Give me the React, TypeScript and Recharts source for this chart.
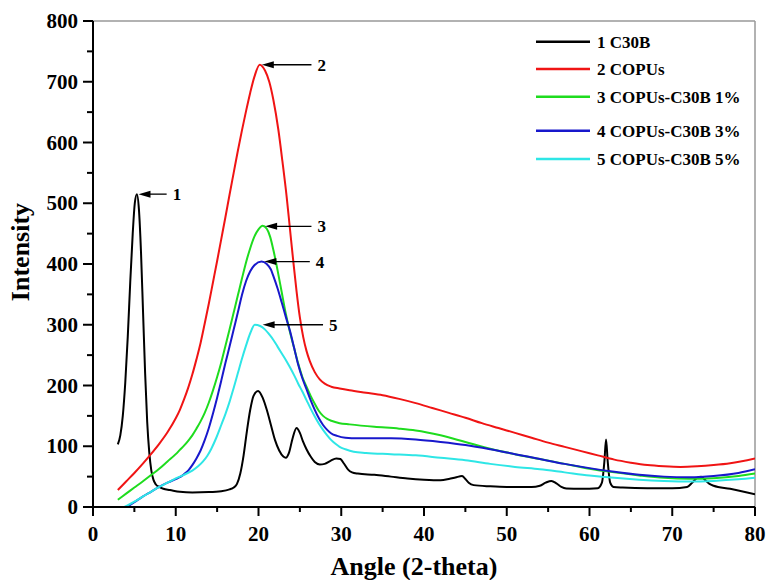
import React from 'react';
import { LineChart, Line, XAxis, YAxis, ReferenceLine } from 'recharts';

const FONT = '"Liberation Serif", "Times New Roman", serif';

const c30b: [number, number][] = [
  [3, 103], [3.3, 118], [3.6, 150], [3.9, 205], [4.2, 280], [4.5, 370], [4.8, 450], [5.05, 500], [5.3, 515],
  [5.55, 490], [5.8, 420], [6.05, 320], [6.3, 220], [6.55, 140], [6.8, 90], [7.05, 60], [7.3, 45], [7.6, 37],
  [8, 33], [8.5, 30], [9.3, 28], [10.5, 25], [12, 24], [14, 24.5], [15.5, 26], [16.5, 29], [17, 32],
  [17.4, 38], [17.8, 55], [18.2, 85], [18.6, 125], [19, 160], [19.4, 183], [19.95, 191], [20.5, 180],
  [21, 160], [21.5, 135], [22, 110], [22.5, 93], [23, 83], [23.3, 81], [23.7, 90], [24.1, 112], [24.6, 130],
  [25, 122], [25.4, 107], [25.8, 95], [26.3, 83], [26.8, 74], [27.4, 70], [28, 71], [28.7, 76], [29.4, 80],
  [29.9, 79], [30.3, 72], [30.8, 62], [31.3, 57], [32, 55], [34, 53], [36, 50], [38, 47], [40, 45], [42, 44],
  [43, 46], [43.8, 48.5], [44.6, 51], [45, 46], [45.4, 40], [46, 36], [48, 34], [50, 33], [53, 33], [54, 35],
  [54.7, 40], [55.4, 43], [56, 39], [56.6, 33], [57.2, 30.5], [59, 30], [61, 31], [61.5, 40], [61.8, 75],
  [62, 111], [62.2, 75], [62.5, 40], [62.9, 33], [64, 32], [67, 31], [70, 31], [71.8, 33], [72.4, 40],
  [73, 48], [73.5, 50], [74, 44], [74.5, 38], [75, 35], [77, 30], [80, 21],
];

const copus: [number, number][] = [
  [3, 28], [4, 42], [5, 56], [6, 71], [7, 87], [8, 104], [9, 123], [10, 146], [10.5, 160], [11, 177],
  [11.5, 196], [12, 218], [12.5, 243], [13, 270], [13.5, 302], [14, 335], [14.5, 370], [15, 405], [15.5, 441],
  [16, 477], [16.5, 514], [17, 550], [17.5, 586], [18, 620], [18.5, 652], [19, 682], [19.5, 708], [20.15, 728],
  [20.8, 718], [21.3, 700], [21.8, 670], [22.4, 621], [22.9, 568], [23.4, 511], [23.8, 458], [24.2, 405],
  [24.6, 355], [25, 312], [25.4, 280], [25.8, 257], [26.2, 240], [26.8, 222], [27.4, 210], [28, 203],
  [28.8, 198], [29.8, 195], [31, 192], [33, 188], [35, 184], [37, 178], [39, 171], [41, 163], [43, 155],
  [45, 147], [47, 138], [49, 130], [51, 122], [53, 114], [55, 106], [57, 99], [59, 92], [61, 85], [63, 78],
  [65, 73], [67, 69], [69, 67], [71, 66], [73, 67], [75, 69], [77, 72], [80, 80],
];

const c30b1: [number, number][] = [
  [3, 12], [4, 22], [5, 32], [6, 42], [7.06, 53], [8, 63], [9, 75], [10, 87], [10.5, 94], [11, 101],
  [11.5, 109], [12, 118], [12.5, 129], [13, 141], [13.5, 155], [14, 172], [14.5, 192], [15, 214], [15.5, 238],
  [16, 265], [16.5, 292], [17, 320], [17.5, 348], [18, 376], [18.5, 403], [19, 426], [19.5, 445], [20, 457],
  [20.5, 463], [21, 458], [21.4, 445], [21.8, 423], [22.3, 390], [22.8, 354], [23.3, 318], [23.8, 288],
  [24.3, 262], [24.8, 236], [25.3, 214], [25.8, 198], [26.3, 183], [26.8, 170], [27.3, 158], [27.8, 150],
  [28.3, 145], [28.8, 142], [29.8, 138], [31, 136], [34, 132], [37, 129], [39, 126], [42, 118], [45, 107],
  [48, 96], [51, 87], [54, 79], [57, 71], [60, 63], [63, 57], [66, 52], [69, 48], [72, 46.5], [75, 47.5],
  [78, 51], [80, 55],
];

const c30b3: [number, number][] = [
  [4.1, 0], [5, 8], [6, 17], [7, 25], [8, 33], [9, 40], [10, 46], [10.5, 49], [11, 54], [11.5, 60], [12, 69],
  [12.5, 80], [13, 93], [13.5, 110], [14, 130], [14.5, 154], [15, 180], [15.5, 208], [16, 237], [16.5, 264],
  [17, 292], [17.5, 320], [18, 349], [18.5, 372], [19, 388], [19.5, 398], [20.36, 404], [21, 400], [21.5, 391],
  [21.8, 380], [22.3, 360], [22.8, 337], [23.3, 313], [23.8, 290], [24.3, 262], [24.8, 234], [25.3, 212],
  [25.8, 194], [26.3, 176], [26.8, 160], [27.3, 146], [27.8, 135], [28.3, 127], [28.8, 121], [29.5, 117],
  [30.5, 114], [32, 113], [36, 113], [39, 111], [42, 107], [45, 102], [48, 95], [51, 87], [54, 79], [57, 71],
  [60, 64], [63, 58], [66, 53], [69, 50], [72, 49], [75, 51], [78, 56], [80, 62],
];

const c30b5: [number, number][] = [
  [3.8, 0], [5, 9], [6, 17], [7, 25], [8, 33], [9, 40], [10, 47], [11, 53], [12, 60], [12.7, 67], [13.3, 75],
  [13.8, 84], [14.3, 96], [14.9, 114], [15.5, 135], [16, 153], [16.5, 173], [17, 196], [17.5, 220], [18, 244],
  [18.5, 266], [19, 286], [19.55, 300], [20.2, 298], [20.8, 292], [21.3, 284], [21.8, 275], [22.3, 264],
  [22.8, 253], [23.3, 242], [23.8, 230], [24.3, 217], [24.8, 203], [25.3, 190], [25.8, 176], [26.3, 162],
  [26.8, 149], [27.3, 137], [27.8, 127], [28.3, 118], [28.8, 110], [29.3, 104], [29.8, 99], [30.5, 95],
  [31.5, 91], [33, 89], [36, 87], [39, 85], [42, 81], [45, 77], [48, 71], [51, 66], [54, 62], [57, 57],
  [60, 52], [63, 48], [66, 45], [69, 43], [72, 42], [75, 43], [78, 45.5], [80, 48],
];

const seriesNames = ['1 C30B', '2 COPUs', '3 COPUs-C30B 1%', '4 COPUs-C30B 3%', '5 COPUs-C30B 5%'];
const seriesColors = ['#000000', '#f01414', '#1edc1e', '#1818cc', '#2ee6e6'];
const seriesData = [c30b, copus, c30b1, c30b3, c30b5];

const xTicks = [0, 5, 10, 15, 20, 25, 30, 35, 40, 45, 50, 55, 60, 65, 70, 75, 80];
const yTicks = [0, 50, 100, 150, 200, 250, 300, 350, 400, 450, 500, 550, 600, 650, 700, 750, 800];

// annotation arrows: [label, tipX, tipY, endX]
const arrows: [string, number, number, number][] = [
  ['1', 5.5, 515, 8.9],
  ['2', 20.4, 728, 26.4],
  ['3', 20.8, 462, 26.4],
  ['4', 20.7, 404, 26.2],
  ['5', 20.5, 300, 27.8],
];

const legendRowY = [41.7, 69, 96.7, 130.7, 159];

const XTick = (props: any) => {
  const { x, y, payload } = props;
  const v = payload.value;
  const major = v % 10 === 0;
  return (
    <g>
      <line x1={x} y1={y} x2={x} y2={y + (major ? 9 : 5)} stroke="#000" strokeWidth={2} />
      {major && (
        <text x={x} y={y + 34} textAnchor="middle" fontFamily={FONT} fontWeight="bold" fontSize={21} fill="#000">
          {v}
        </text>
      )}
    </g>
  );
};

const YTick = (props: any) => {
  const { x, y, payload } = props;
  const v = payload.value;
  const major = v % 100 === 0;
  return (
    <g>
      <line x1={x} y1={y} x2={x - (major ? 10 : 6)} y2={y} stroke="#000" strokeWidth={2} />
      {major && (
        <text x={x - 15} y={y + 7} textAnchor="end" fontFamily={FONT} fontWeight="bold" fontSize={21} fill="#000">
          {v}
        </text>
      )}
    </g>
  );
};

const makeArrowShape = (label: string) => (props: any) => {
  const { x1, y1, x2, y2 } = props;
  const tipX = Math.min(x1, x2);
  const endX = Math.max(x1, x2);
  const yy = y1;
  return (
    <g>
      <line x1={tipX + 10} y1={yy} x2={endX} y2={y2} stroke="#000" strokeWidth={1.3} />
      <polygon points={`${tipX},${yy} ${tipX + 12},${yy - 3.5} ${tipX + 12},${yy + 3.5}`} fill="#000" />
      <text x={endX + 6} y={yy + 6} fontFamily={FONT} fontWeight="bold" fontSize={17} fill="#000">
        {label}
      </text>
    </g>
  );
};

export default function App() {
  return (
    <div style={{ position: 'absolute', left: 0, top: 0, width: 766, height: 580, background: '#fff' }}>
      <LineChart width={766} height={580} margin={{ top: 21, right: 11, left: 33, bottom: 23 }}>
        <XAxis
          dataKey="x"
          type="number"
          domain={[0, 80]}
          ticks={xTicks}
          interval={0}
          allowDataOverflow
          axisLine={{ stroke: '#000', strokeWidth: 2 }}
          tickLine={false}
          tickSize={0}
          tickMargin={0}
          tick={<XTick />}
          height={50}
          label={(p: any) => {
            const vb = p.viewBox || {};
            return (
              <text
                x={vb.x + vb.width / 2 - 10}
                y={vb.y + 68}
                textAnchor="middle"
                fontFamily={FONT}
                fontWeight="bold"
                fontSize={26}
                fill="#000"
              >
                Angle (2-theta)
              </text>
            );
          }}
        />
        <YAxis
          type="number"
          domain={[0, 800]}
          ticks={yTicks}
          interval={0}
          allowDataOverflow
          axisLine={{ stroke: '#000', strokeWidth: 2 }}
          tickLine={false}
          tickSize={0}
          tickMargin={0}
          tick={<YTick />}
          width={60}
          label={(p: any) => {
            const vb = p.viewBox || {};
            const cx = vb.x - 4;
            const cy = vb.y + 231;
            return (
              <text
                x={cx}
                y={cy}
                transform={`rotate(-90, ${cx}, ${cy})`}
                textAnchor="middle"
                fontFamily={FONT}
                fontWeight="bold"
                fontSize={26}
                fill="#000"
              >
                Intensity
              </text>
            );
          }}
        />
        <ReferenceLine y={800} stroke="#999" strokeWidth={1.5} />
        <ReferenceLine x={80} stroke="#999" strokeWidth={1.5} />
        {seriesData.map((pts, i) => (
          <Line
            key={seriesNames[i]}
            name={seriesNames[i]}
            data={pts.map(([x, y]) => ({ x, y }))}
            dataKey="y"
            type="monotone"
            stroke={seriesColors[i]}
            strokeWidth={2}
            dot={false}
            activeDot={false}
            isAnimationActive={false}
          />
        ))}
        {arrows.map(([label, tx, ty, ex]) => (
          <ReferenceLine
            key={'arrow' + label}
            segment={[{ x: tx, y: ty }, { x: ex, y: ty }]}
            stroke="#000"
            shape={makeArrowShape(label)}
          />
        ))}
      </LineChart>
      <svg width={766} height={200} style={{ position: 'absolute', left: 0, top: 0, pointerEvents: 'none' }}>
        {seriesNames.map((name, i) => (
          <g key={name}>
            <line x1={536} y1={legendRowY[i]} x2={590} y2={legendRowY[i]} stroke={seriesColors[i]} strokeWidth={2.5} />
            <text x={597} y={legendRowY[i] + 6} fontFamily={FONT} fontWeight="bold" fontSize={17} fill="#000">
              {name}
            </text>
          </g>
        ))}
      </svg>
    </div>
  );
}
